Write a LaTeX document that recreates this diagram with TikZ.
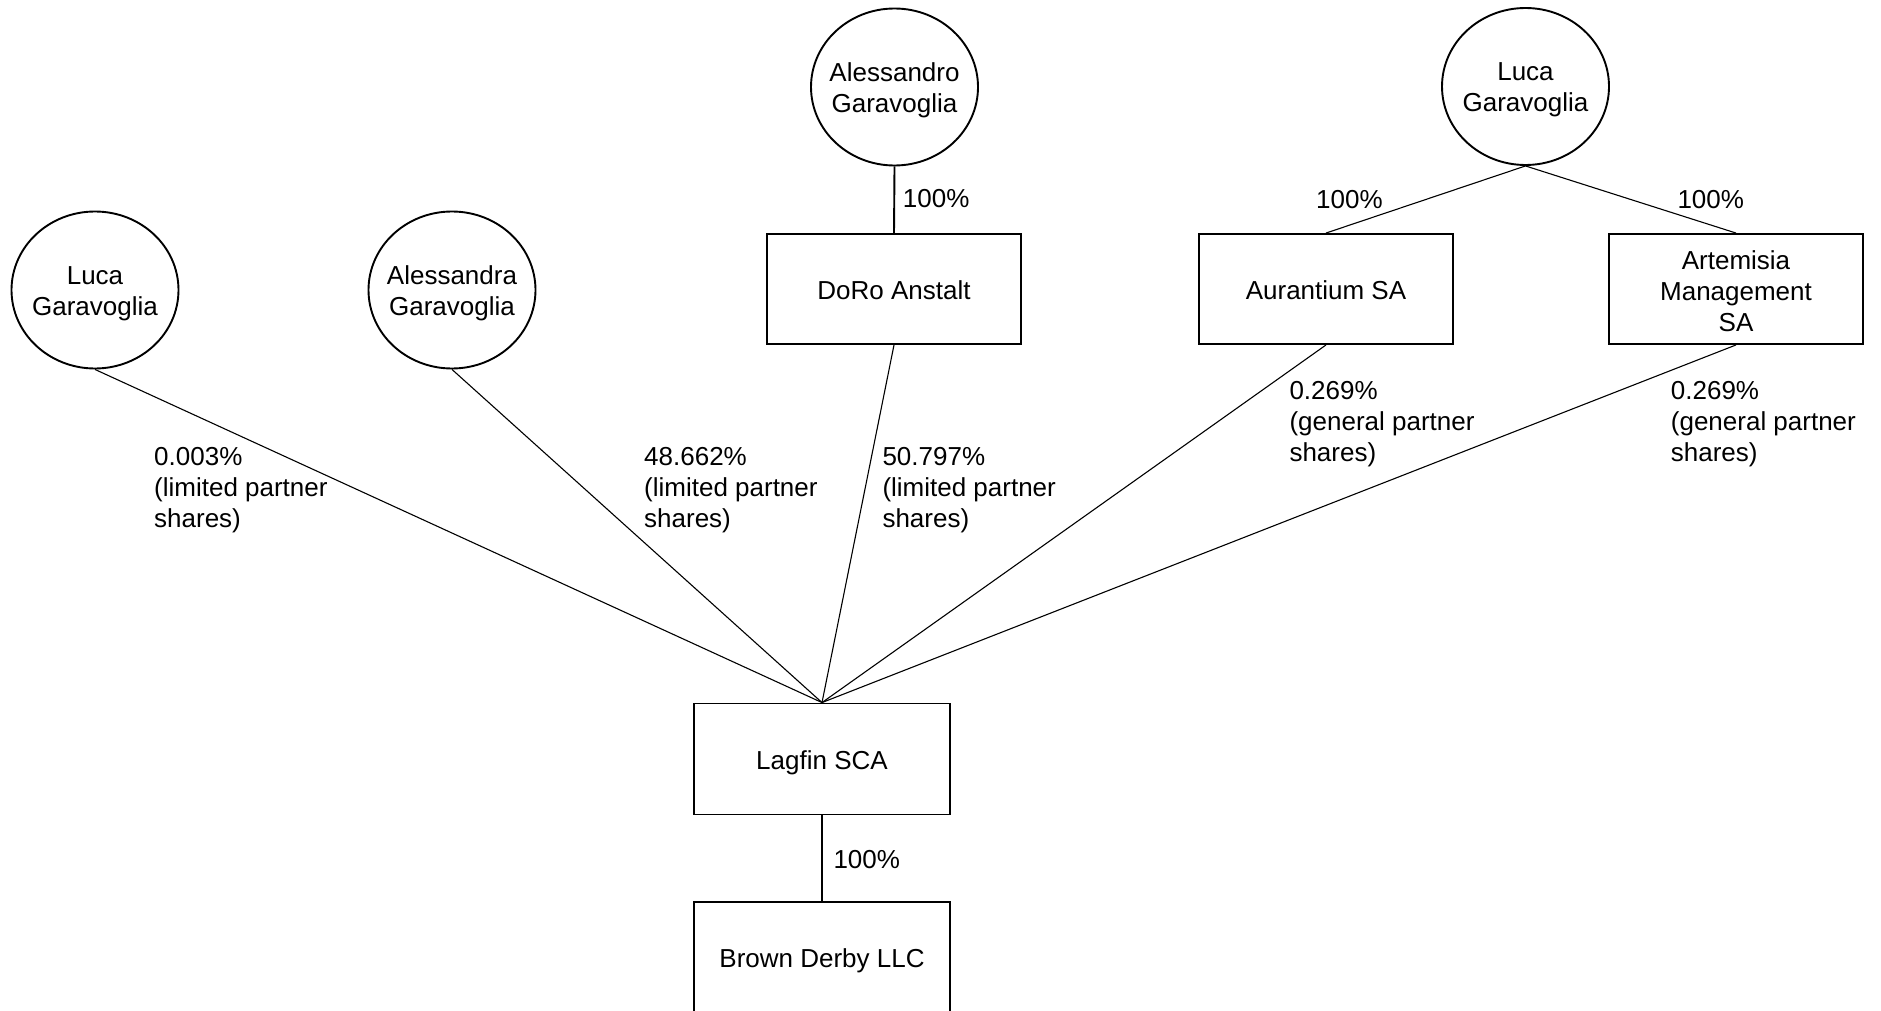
\documentclass[tikz,border=0pt]{standalone}
\usepackage{fontspec}
\setmainfont{Liberation Sans}
\usetikzlibrary{shapes.geometric}
\begin{document}
\begin{tikzpicture}[x=1pt,y=-1pt,
  every node/.style={font=\fontsize{26}{31}\selectfont},
  person/.style={ellipse,draw,line width=1.9pt,minimum width=167pt,minimum height=157pt,inner sep=0pt},
  entity/.style={rectangle,draw,line width=1.9pt,minimum width=254pt,minimum height=110pt,inner sep=0pt},
  txt/.style={inner sep=0pt,align=center},
  link/.style={line width=1.1pt},
  stem/.style={line width=1.9pt},
  pct/.style={anchor=north west,inner sep=0pt,align=left},
  pctone/.style={anchor=base west,inner sep=0pt}]
\clip (0,0) rectangle (1881,1011);
\fill[white] (0,0) rectangle (1881,1011);

% persons
\node[person] (lucaL) at (95,290) {};
\node[txt] (lucaLt) at (95,293.6) {Luca\\Garavoglia};
\node[person] (alessandra) at (452,290) {};
\node[txt] (alessandrat) at (452,293.6) {Alessandra\\Garavoglia};
\node[person] (alessandro) at (894.5,87) {};
\node[txt] (alessandrot) at (894.5,90.6) {Alessandro\\Garavoglia};
\node[person] (lucaT) at (1525.5,86.5) {};
\node[txt] (lucaTt) at (1525.5,90.1) {Luca\\Garavoglia};

% entities
\node[entity] (doro) at (894,289) {};
\node[txt] (dorot) at (894,290.2) {DoRo Anstalt};
\node[entity] (aur) at (1326,289) {};
\node[txt] (aurt) at (1326,290.2) {Aurantium SA};
\node[entity] (art) at (1736,289) {};
\node[txt] (artt) at (1736,290.8) {Artemisia\\Management\\SA};
\node[entity,minimum width=256pt,minimum height=111pt] (lag) at (822,759) {};
\node[txt] (lagt) at (822,762.6) {Lagfin SCA};
\node[entity,minimum width=256pt,minimum height=111pt] (bd) at (822,957.5) {};
\node[txt] (bdt) at (822,961.1) {Brown Derby LLC};

% connectors
\draw[stem] (alessandro.south) -- (doro.north);
\draw[link] (lucaT.south) -- (aur.north);
\draw[link] (lucaT.south) -- (art.north);
\draw[link] (lucaL.south) -- (lag.north);
\draw[link] (alessandra.south) -- (lag.north);
\draw[link] (doro.south) -- (lag.north);
\draw[link] (aur.south) -- (lag.north);
\draw[link] (art.south) -- (lag.north);
\draw[stem] (lag.south) -- (bd.north);

% labels
\node[pctone] (pAO) at (902.7,207.3) {100\%};
\node[pctone] (pAur) at (1316,208.3) {100\%};
\node[pctone] (pArt) at (1677.3,208.3) {100\%};
\node[pctone] (pBD) at (833.3,868.3) {100\%};
\node[pct] (pL) at (154,447) {0.003\%\\(limited partner\\shares)};
\node[pct] (pAA) at (644,447) {48.662\%\\(limited partner\\shares)};
\node[pct] (pDoro) at (882.3,447) {50.797\%\\(limited partner\\shares)};
\node[pct] (pAurL) at (1289.3,381) {0.269\%\\(general partner\\shares)};
\node[pct] (pArtL) at (1670.7,381) {0.269\%\\(general partner\\shares)};
\end{tikzpicture}
\end{document}
